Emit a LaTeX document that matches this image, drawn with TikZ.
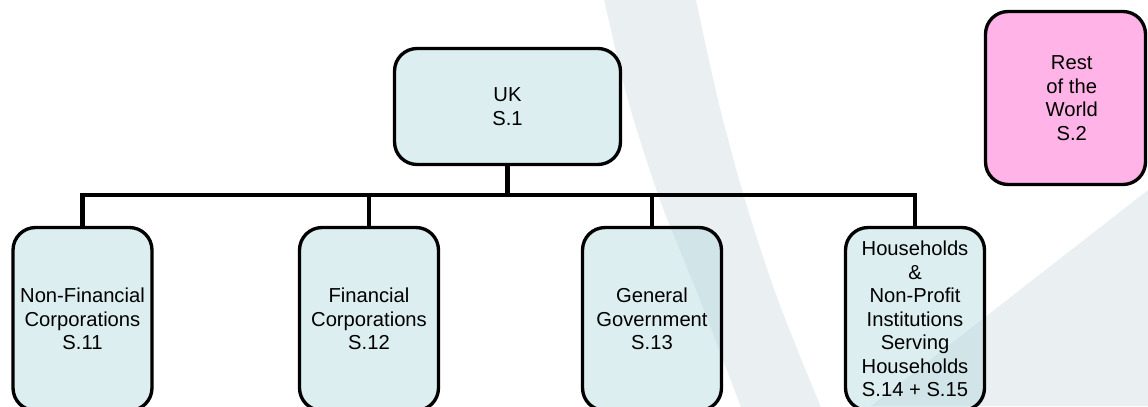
\documentclass[tikz,border=0pt]{standalone}
\usepackage{fontspec}
\setmainfont{Liberation Sans}
\definecolor{sectorblue}{RGB}{185,221,225}
\definecolor{rowpink}{RGB}{255,179,230}
\definecolor{swoosh}{RGB}{234,239,242}
\tikzset{
  sectorbox/.style={draw=black, line width=1.9pt, rounded corners=0.45cm,
    fill=sectorblue, fill opacity=0.5, text opacity=1, draw opacity=1,
    align=center, inner sep=0pt,
    font=\fontsize{11.5pt}{13.4pt}\selectfont},
  unitbox/.style={sectorbox, minimum width=2.78cm, minimum height=3.66cm},
  worldbox/.style={sectorbox, fill=rowpink, fill opacity=1},
  conn/.style={line width=2.6pt, line join=miter}
}
\begin{document}
\begin{tikzpicture}[x=0.02cm, y=-0.02cm]
  \useasboundingbox (0,0) rectangle (1148,406);

  % pale background swooshes
  \begin{scope}
    \clip (0,0) rectangle (1148,406);
    \fill[swoosh] plot[smooth] coordinates {(603,-5) (628,100) (660,200) (700,300) (742,410)}
      -- plot[smooth] coordinates {(822,410) (778,300) (745,200) (718,100) (695,-5)} -- cycle;
    \fill[swoosh] (1148,190) -- (871,406) -- (1148,406) -- cycle;
  \end{scope}

  % sectors
  \node[sectorbox, minimum width=4.52cm, minimum height=2.32cm] (uk) at (507.5,106.5) {UK\\S.1};
  \node[worldbox, minimum width=3.2cm, minimum height=3.46cm] (row) at (1065.5,98)
    {\hspace*{0.25cm}Rest\\\hspace*{0.25cm}of the\\\hspace*{0.25cm}World\\\hspace*{0.25cm}S.2};

  \node[unitbox] (nfc) at (82.5,319) {Non-Financial\\Corporations\\S.11};
  \node[unitbox] (fc)  at (369,319) {Financial\\Corporations\\S.12};
  \node[unitbox] (gg)  at (652,319) {General\\Government\\S.13};
  \node[unitbox] (hh)  at (915,319) {Households\\\&\\Non-Profit\\Institutions\\Serving\\Households\\S.14 + S.15};

  % tree connectors
  \coordinate (bus) at (507.5,195);
  \draw[conn] (uk.south) -- (bus);
  \draw[conn] (nfc.north) |- (bus) -| (hh.north);
  \draw[conn] (fc.north) -- (fc.north |- bus);
  \draw[conn] (gg.north) -- (gg.north |- bus);
\end{tikzpicture}
\end{document}
